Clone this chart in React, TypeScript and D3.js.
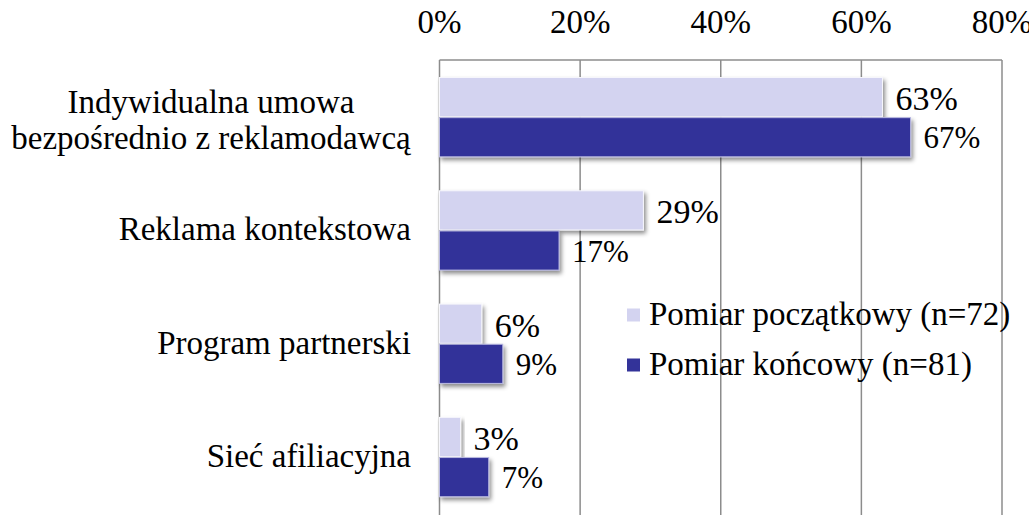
import React from "react";
import * as d3 from "d3";

const categories: string[][] = [
  ["Indywidualna umowa", "bezpośrednio z reklamodawcą"],
  ["Reklama kontekstowa"],
  ["Program partnerski"],
  ["Sieć afiliacyjna"],
];
const seriesNames = ["Pomiar początkowy (n=72)", "Pomiar końcowy (n=81)"];
const initialValues = [63, 29, 6, 3];
const finalValues = [67, 17, 9, 7];
const tickValues = [0, 20, 40, 60, 80];

const W = 1029;
const H = 515;
const plotLeft = 439.5;
const plotRight = 1002;
const plotTop = 60;
const font = "Liberation Serif, Times New Roman, serif";
const lightColor = "#D3D3F0";
const darkColor = "#333399";

export default function App() {
  const x = d3.scaleLinear().domain([0, 80]).range([plotLeft, plotRight]);
  const y = d3
    .scaleBand<number>()
    .domain(d3.range(categories.length))
    .range([plotTop + 0.5, plotTop + 0.5 + 113.3 * 4])
    .paddingInner(33 / 113.3)
    .paddingOuter(16.5 / 113.3);
  const bh = y.bandwidth() / 2;
  const series = [
    { values: initialValues, color: lightColor, size: 34, dx: 13, base: 13, stroke: "#f6f6fc" },
    { values: finalValues, color: darkColor, size: 31, dx: 13, base: 11, stroke: "#b8b8e0" },
  ];
  const tx = { fontFamily: font };
  return (
    <svg
      width={W}
      height={H}
      style={{ position: "absolute", left: 0, top: 0, background: "#fff", fontFamily: font }}
    >
      <defs>
        <filter id="shadow" x="-10%" y="-20%" width="130%" height="160%">
          <feDropShadow dx="2" dy="3" stdDeviation="2" floodColor="#000" floodOpacity="0.45" />
        </filter>
      </defs>
      {tickValues.map((t) => (
        <line
          key={"g" + t}
          x1={x(t)}
          x2={x(t)}
          y1={plotTop}
          y2={H + 10}
          stroke="#8c8c8c"
          strokeWidth={1.5}
        />
      ))}
      <line x1={plotLeft} x2={plotRight} y1={plotTop} y2={plotTop} stroke="#8c8c8c" strokeWidth={1.5} />
      {tickValues.map((t) => (
        <text key={"t" + t} x={x(t)} y={33} fontSize={33} textAnchor="middle" fill="#000" style={tx}>
          {t}%
        </text>
      ))}
      {series.map((s, si) =>
        s.values.map((v, i) => {
          const y0 = (y(i) as number) + si * bh;
          return (
            <g key={si + "-" + i}>
              <rect
                x={x(0)}
                y={y0 + 0.5}
                width={x(v) - x(0)}
                height={bh - 1}
                fill={s.color}
                stroke={s.stroke}
                strokeWidth={1}
                filter="url(#shadow)"
              />
              <text
                x={x(v) + s.dx}
                y={y0 + bh / 2 + s.base}
                fontSize={s.size}
                fill="#000"
                style={tx}
              >
                {v}%
              </text>
            </g>
          );
        })
      )}
      {categories.map((lines, i) => {
        const cy = (y(i) as number) + y.bandwidth() / 2;
        if (lines.length === 1) {
          return (
            <text key={"c" + i} x={411} y={cy + 10} fontSize={33} textAnchor="end" fill="#000" style={tx}>
              {lines[0]}
            </text>
          );
        }
        return (
          <text key={"c" + i} x={211} y={cy} fontSize={33} textAnchor="middle" fill="#000" style={tx}>
            {lines.map((l, k) => (
              <tspan key={k} x={211} y={cy - 4 + k * 35.5}>
                {l}
              </tspan>
            ))}
          </text>
        );
      })}
      {seriesNames.map((n, i) => (
        <g key={"l" + i} transform={`translate(627, ${315 + i * 50})`}>
          <rect x={0} y={-6.5} width={13} height={13} fill={i === 0 ? lightColor : darkColor} />
          <text x={22} y={10} fontSize={33} fill="#000" style={tx}>
            {n}
          </text>
        </g>
      ))}
    </svg>
  );
}
